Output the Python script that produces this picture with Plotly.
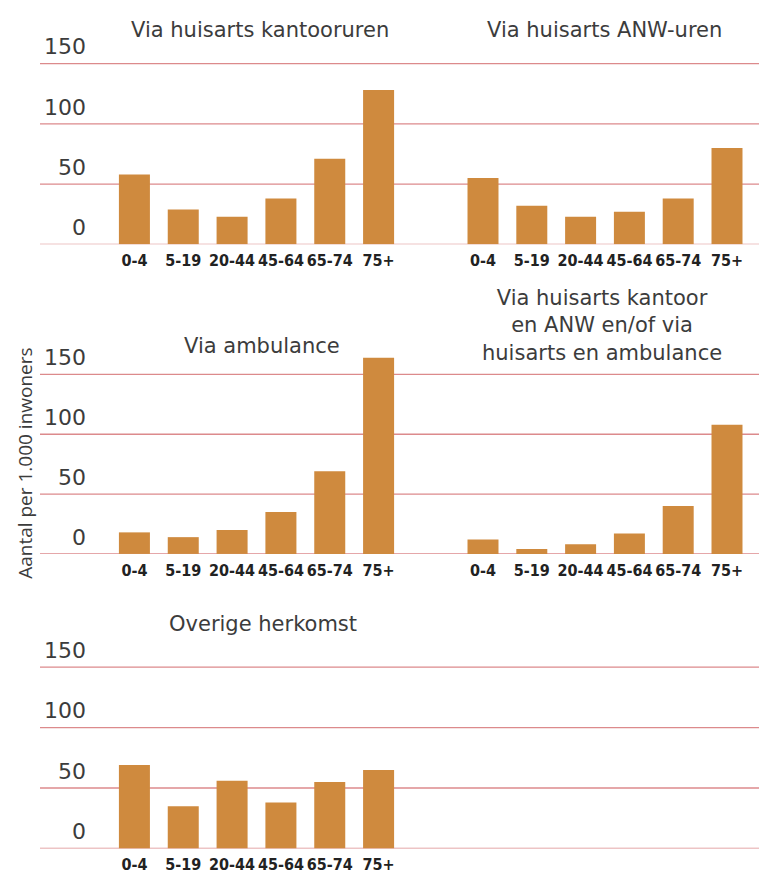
import plotly.graph_objects as go

W, H = 759, 874

age_groups = ['0-4', '5-19', '20-44', '45-64', '65-74', '75+']

kantooruren = [58, 29, 23, 38, 71, 128]
anw_uren = [55, 32, 23, 27, 38, 80]
ambulance = [18, 14, 20, 35, 69, 164]
kantoor_anw_ambulance = [12, 4, 8, 17, 40, 108]
overige = [69, 35, 56, 38, 55, 65]

panel_titles = ['Via huisarts kantooruren', 'Via huisarts ANW-uren', 'Via ambulance',
                'Via huisarts kantoor<br>en ANW en/of via<br>huisarts en ambulance', 'Overige herkomst']

y_ticks = [0, 50, 100, 150]
y_title = 'Aantal per 1.000 inwoners'

BAR_COLOR = '#cf8a3e'
GRID_COLOR = '#dc8a8c'
TEXT_COLOR = '#3c3c3c'


def px_x(x):
    return x / W


def px_y(y):
    return 1 - y / H


# pixel geometry of the panels: (left, right) columns, (zero line, px per unit) rows
columns = [(110, 403), (458.6, 751.4)]
rows = [(241, 1.2133), (552.7, 1.2047), (849.3, 1.2173)]
Y_MAX = 170

series = [kantooruren, anw_uren, ambulance, kantoor_anw_ambulance, overige]
title_pos = [(260, 25), (604, 25), (262, 343), (602, 323), (263, 623)]

fig = go.Figure()
layout = dict()
for i, values in enumerate(series):
    r, c = divmod(i, 2)
    n = i + 1
    suffix = '' if n == 1 else str(n)
    x0, x1 = columns[c]
    zero, scale = rows[r]
    top = zero - Y_MAX * scale
    fig.add_trace(go.Bar(x=age_groups, y=values, marker=dict(color=BAR_COLOR, line=dict(width=0)),
                         xaxis='x' + suffix, yaxis='y' + suffix, showlegend=False, hoverinfo='x+y'))
    layout['xaxis' + suffix] = dict(domain=[px_x(x0), px_x(x1)], anchor='y' + suffix, showgrid=False,
                                    zeroline=False, showline=False, ticks='', tickangle=0, ticklabelstandoff=5,
                                    tickfont=dict(family='DejaVu Sans Condensed', size=16,
                                                  color='#222222', weight='bold'))
    layout['yaxis' + suffix] = dict(domain=[px_y(zero), px_y(top)], anchor='x' + suffix, range=[0, Y_MAX],
                                    showgrid=False, zeroline=False, showline=False, ticks='',
                                    tickvals=y_ticks, showticklabels=(c == 0), ticklabelstandoff=23,
                                    ticklabelshift=-17,
                                    tickfont=dict(family='DejaVu Sans', size=22, color=TEXT_COLOR))
    tx, ty = title_pos[i]
    fig.add_annotation(text=panel_titles[i], x=px_x(tx), y=px_y(ty), xref='paper', yref='paper',
                       showarrow=False, xanchor='center', yanchor='middle',
                       font=dict(family='DejaVu Sans', size=21, color=TEXT_COLOR))

# gridlines run across the full width of each row
for r in range(3):
    yref = 'y' if r == 0 else 'y' + str(2 * r + 1)
    for v in y_ticks:
        fig.add_shape(type='line', xref='paper', yref=yref, x0=px_x(40), x1=1, y0=v, y1=v,
                      line=dict(color=GRID_COLOR, width=1.3), layer='below')

fig.add_annotation(text=y_title, x=px_x(25), y=px_y(462), xref='paper', yref='paper', showarrow=False,
                   textangle=-90, xanchor='center', yanchor='middle',
                   font=dict(family='Open Sans', size=19, color=TEXT_COLOR))

fig.update_layout(**layout)
fig.update_layout(width=W, height=H, margin=dict(l=0, r=0, t=0, b=0), bargap=0.365,
                  plot_bgcolor='white', paper_bgcolor='white')

fig.write_html('out.html', config={'displayModeBar': False},
               post_script="document.body.style.margin = '0';")
